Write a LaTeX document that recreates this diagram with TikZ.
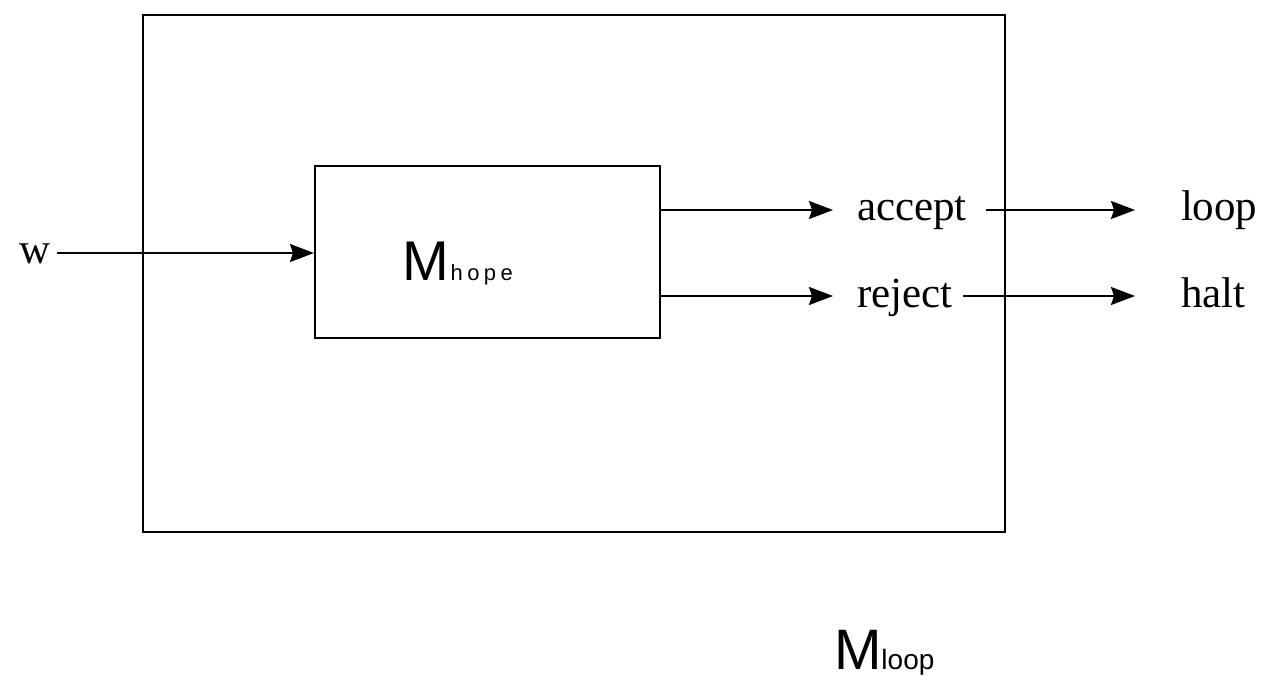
\documentclass[tikz,border=0pt]{standalone}
\usepackage{fontspec}
\setmainfont{Liberation Serif}
\setsansfont{Liberation Sans}
\usetikzlibrary{arrows.meta}
\begin{document}
\begin{tikzpicture}[x=0.5pt,y=-0.5pt,
    line width=1pt,
    arr/.style={-{Stealth[length=12pt,width=9pt,inset=1.5pt]}},
    % text box centred 5.5pt above the baseline, so west/east sit at arrow height
    lbl/.style={inner sep=0pt,text height=14pt,text depth=3pt,anchor=base west,
                font=\fontsize{21.5}{24}\selectfont},
    machine/.style={draw,line width=1pt,inner sep=0pt}]
  \useasboundingbox (0,0) rectangle (1264,684);

  % outer machine M_loop and inner machine M_hope
  \node[machine,minimum width=431pt,minimum height=258.5pt] (loopbox) at (574,273.5) {};
  \node[machine,minimum width=172.5pt,minimum height=86pt] (hope) at (487.5,252) {};

  % machine names
  \node[inner sep=0pt,anchor=base west,font=\sffamily] (hopename) at (401,281)
    {\fontsize{28}{30}\selectfont M\kern1pt\fontsize{11}{12}\selectfont\addfontfeature{LetterSpace=20}hope};
  \node[inner sep=0pt,anchor=base west,font=\sffamily] (loopname) at (833,669)
    {\fontsize{28.5}{30}\selectfont M\fontsize{14}{16}\selectfont loop};

  % input, outcomes and results
  \node[lbl] (w) at (18,264) {w};
  \node[lbl] (acc) at (856,221) {accept};
  \node[lbl] (rej) at (856,307) {reject};
  \node[lbl] (lp) at (1180,221) {loop};
  \node[lbl] (ht) at (1180,307) {halt};

  % connectors
  \draw[arr,shorten <=3pt] (w.east) -- (hope.west |- w.east);
  \draw[arr,shorten >=11.5pt] (hope.east |- acc.west) -- (acc.west);
  \draw[arr,shorten >=11.5pt] (hope.east |- rej.west) -- (rej.west);
  \draw[arr,shorten <=9pt,shorten >=22.5pt] (acc.east) -- (lp.west);
  \draw[arr,shorten <=5pt,shorten >=22.5pt] (rej.east) -- (ht.west);
\end{tikzpicture}
\end{document}
